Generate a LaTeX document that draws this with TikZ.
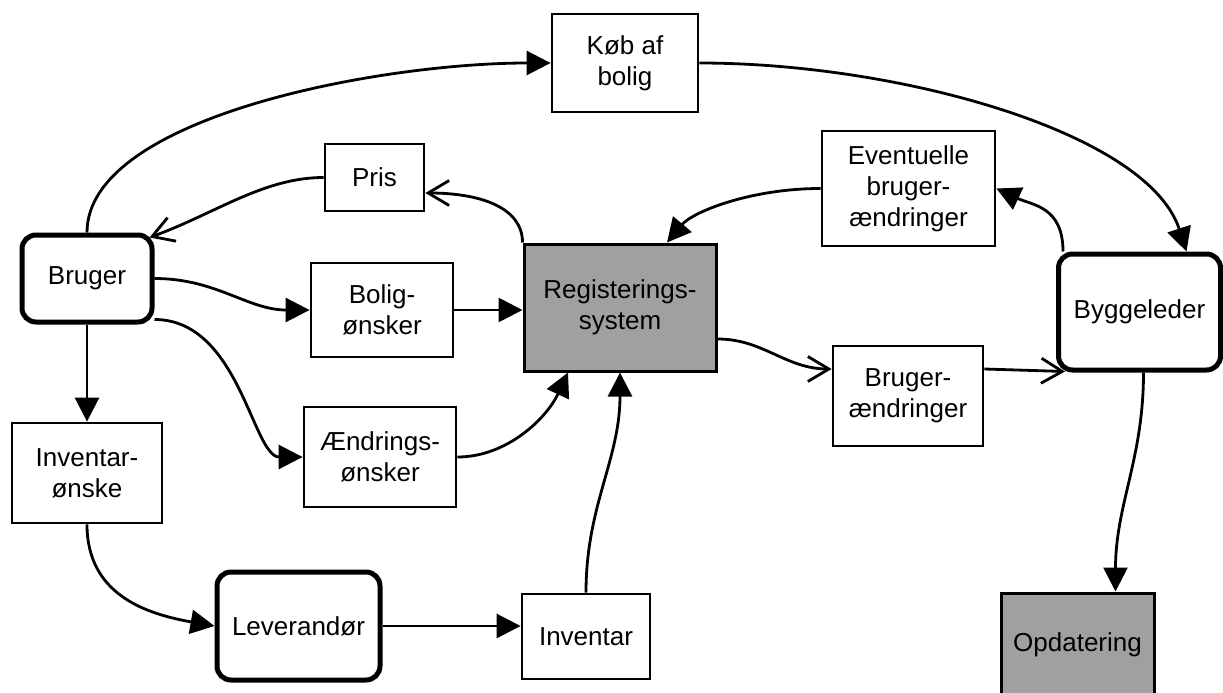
\documentclass[tikz,border=0pt]{standalone}
\usepackage{fontspec}
\setmainfont{Liberation Sans}
\usetikzlibrary{arrows.meta}
\definecolor{boxgray}{RGB}{160,160,160}
\begin{document}
\begin{tikzpicture}[x=1pt,y=1pt,
  every node/.style={font=\fontsize{26}{31}\selectfont, align=center, inner sep=0pt},
  plain/.style={draw, line width=2.8pt, fill=white},
  actor/.style={draw, line width=5pt, rounded corners=14pt, fill=white},
  sysbox/.style={draw, line width=3pt, fill=boxgray},
  fa/.style={line width=2.8pt, -{Triangle[length=24pt,width=24pt]}},
  oa/.style={line width=2.8pt, -{Straight Barb[length=21pt,width=25pt]}},
]
\useasboundingbox (0,0) rectangle (1223,-693);

% boxes
\node[plain, minimum width=146pt, minimum height=98pt] (kob) at (625,-63) {Køb af\\bolig};
\node[plain, minimum width=99pt, minimum height=67pt] (pris) at (374.5,-177.5) {Pris};
\node[plain, minimum width=173pt, minimum height=115pt] (event) at (908.5,-188.5) {Eventuelle\\bruger-\\ændringer};
\node[actor, minimum width=130pt, minimum height=87pt] (bruger) at (87,-278.5) {Bruger};
\node[plain, minimum width=142pt, minimum height=94pt] (bolig) at (382,-310) {Bolig-\\ønsker};
\node[sysbox, minimum width=192pt, minimum height=127pt] (reg) at (620,-307.5) {Registerings-\\system};
\node[actor, minimum width=162pt, minimum height=116pt] (bygg) at (1139.5,-312) {Byggeleder};
\node[plain, minimum width=150pt, minimum height=100pt] (brugaend) at (908,-396) {Bruger-\\ændringer};
\node[plain, minimum width=150pt, minimum height=100pt] (invonske) at (87,-473) {Inventar-\\ønske};
\node[plain, minimum width=152pt, minimum height=100pt] (aendr) at (380,-457) {Ændrings-\\ønsker};
\node[actor, minimum width=163pt, minimum height=108pt] (lev) at (298.5,-626) {Leverandør};
\node[plain, minimum width=128pt, minimum height=85pt] (inv) at (586,-636.5) {Inventar};
\node[sysbox, minimum width=153pt, minimum height=104pt] (opd) at (1077.5,-645) {Opdatering};

% connectors
\draw[fa] (bruger.north) to[out=90,in=180,out distance=115pt,in distance=172pt] (kob.west);
\draw[fa] (kob.east) to[out=0,in=108,out distance=200pt,in distance=125pt] ([xshift=47pt]bygg.north);
\draw[oa] (reg.north west) to[out=90,in=0,out distance=35pt,in distance=55pt] ([yshift=-15.5pt]pris.east);
\draw[oa] (pris.west) to[out=180,in=20,out distance=60pt,in distance=70pt] ([shift={(-5pt,-5pt)}]bruger.north east);
\draw[fa] (bruger.east) to[out=0,in=180] (bolig.west);
\draw[fa] (bolig.east) -- (bolig.east -| reg.west);
\draw[fa] ([yshift=5pt]bruger.south east) to[out=0,in=180,out distance=85pt,in distance=50pt] (aendr.west);
\draw[fa] (bruger.south) -- (invonske.north);
\draw[fa] (invonske.south) to[out=-90,in=170,out distance=70pt,in distance=70pt] (lev.west);
\draw[fa] (lev.east) -- (lev.east -| inv.west);
\draw[fa] (inv.north) to[out=90,in=-90] (reg.south);
\draw[fa] (aendr.east) to[out=0,in=-115,out distance=50pt,in distance=50pt] ([xshift=-52pt]reg.south);
\draw[oa] ([yshift=-31.5pt]reg.east) to[out=0,in=180] ([yshift=27pt]brugaend.west);
\draw[oa] ([yshift=27pt]brugaend.east) -- ([shift={(9pt,1pt)}]bygg.south west);
\draw[fa] ([xshift=7pt]bygg.north west) to[out=90,in=-25,out distance=45pt,in distance=40pt] (event.east);
\draw[fa] (event.west) to[out=180,in=50,out distance=70pt,in distance=40pt] ([xshift=47pt]reg.north);
\draw[fa] ([xshift=4pt]bygg.south) to[out=-90,in=90] ([xshift=38pt]opd.north);
\end{tikzpicture}
\end{document}
